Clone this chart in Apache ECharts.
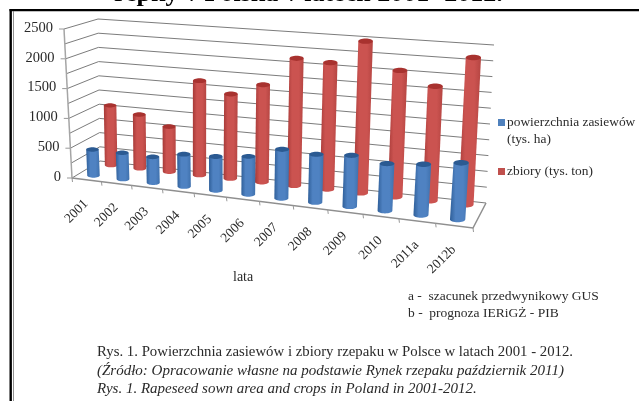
<!DOCTYPE html>
<html><head><meta charset="utf-8">
<style>html,body{margin:0;padding:0;background:#fff}#c{width:639px;height:401px;filter:blur(0.45px)}</style>
<script src="https://cdn.jsdelivr.net/npm/echarts@6/dist/echarts.min.js"></script>
</head><body><div id="c"></div>
<script>
const categories = ['2001','2002','2003','2004','2005','2006','2007','2008','2009','2010','2011a','2012b'];
const areaValues = [440,440,430,530,550,610,780,760,800,730,780,860];
const cropValues = [1040,930,770,1600,1420,1620,2100,2070,2460,2030,1820,2320];
const gridValues = [0,250,500,750,1000,1250,1500,1750,2000,2250,2500];
const tickLabels = ['0','500','1000','1500','2000','2500'];
const tickPositions = [0,1,2,3,4,5,6,7,8,9,10,11,12];
const seriesNames = ['powierzchnia zasiewów','zbiory (tys. ton)'];

const W = 639, H = 401, SERIF = '"Liberation Serif","Times New Roman",serif';
const FL=[72,178], FR=[473,228], BL=[100,161], BR=[486,203];
const HFL=[-8,-149], HFR=[12,-168], HBL=[-2,-142], HBR=[8,-158];
function warpU(u){ const a=0.87; return a*u + (1-a)*u*u; }
function proj(u,d,h){
  const w=warpU(u);
  const lerp=(A,B,C,D,k)=>(A[k]*(1-w)+B[k]*w)*(1-d)+(C[k]*(1-w)+D[k]*w)*d;
  return [lerp(FL,FR,BL,BR,0)+h*lerp(HFL,HFR,HBL,HBR,0),
          lerp(FL,FR,BL,BR,1)+h*lerp(HFL,HFR,HBL,HBR,1)];
}
function hVal(api,v){ return 1-api.coord([0,v])[1]/H; }

function gridItem(params,api){
  const v=api.value(0), h=hVal(api,v);
  const pts=[proj(0,0,h),proj(0,1,h),proj(1,1,h)];
  const ch=[{type:'polyline',shape:{points:pts},style:{fill:null,stroke:'#7c7c7c',lineWidth:1}}];
  if(v%500===0){
    const a=pts[0];
    ch.push({type:'line',shape:{x1:a[0]-5,y1:a[1],x2:a[0],y2:a[1]},style:{stroke:'#999',lineWidth:1}});
    ch.push({type:'text',x:a[0]-11,y:a[1]-1,style:{text:tickLabels[v/500],align:'right',verticalAlign:'middle',font:'14.5px '+SERIF,fill:'#2a2a2a'}});
  }
  return {type:'group',children:ch};
}
function floorItem(params,api){
  const k=api.value(0), a=proj(k/12,0,0);
  const ch=[{type:'line',shape:{x1:a[0],y1:a[1],x2:a[0]+0.5,y2:a[1]+4},style:{stroke:'#999',lineWidth:1}}];
  if(k===0) ch.push({type:'polyline',shape:{points:[FL,FR,BR]},style:{fill:null,stroke:'#8f8f8f',lineWidth:1.5}},
                    {type:'line',shape:{x1:FL[0],y1:FL[1],x2:proj(0,0,1)[0],y2:proj(0,0,1)[1]},style:{stroke:'#a5a5a5',lineWidth:1.5}});
  return {type:'group',children:ch};
}
function labelItem(params,api){
  const c=api.coord([api.value(0),0]), a=proj(c[0]/W,0,0);
  return {type:'text',x:a[0]-0.5,y:a[1]+22,rotation:Math.PI/4,
    style:{text:categories[api.value(0)],align:'right',verticalAlign:'middle',font:'13.5px '+SERIF,fill:'#2a2a2a'}};
}
function cylinder(depth,cols,dx){
  return function(params,api){
    const i=api.value(0), c=api.coord([i,api.value(1)]), u=c[0]/W, h=1-c[1]/H;
    const off=dx*(1-u);
    const b=proj(u,depth,0), t=proj(u,depth,h), r=6.2+1.5*u, ry=2.2+0.6*u;
    b[0]+=off; t[0]+=off;
    const pts=[[t[0]-r,t[1]]];
    for(let a=0;a<=16;a++){const th=Math.PI*a/16;pts.push([b[0]-r*Math.cos(th),b[1]+ry*Math.sin(th)]);}
    pts.push([t[0]+r,t[1]]);
    const fill=new echarts.graphic.LinearGradient(0,0,1,0,[
      {offset:0,color:cols[0]},{offset:0.3,color:cols[1]},{offset:0.7,color:cols[1]},{offset:1,color:cols[2]}]);
    return {type:'group',children:[
      {type:'polygon',shape:{points:pts},style:{fill}},
      {type:'ellipse',shape:{cx:t[0],cy:t[1],rx:r,ry:ry},style:{fill:cols[3]}}
    ]};
  };
}
const blue=['#2f5f99','#4f82c2','#3f71ad','#2b5a92'], red=['#a63a38','#cb5350','#b54542','#a8322f'];

const chart=echarts.init(document.getElementById('c'),null,{renderer:'canvas'});
const txt=(s,x,y,size,extra)=>({type:'text',x,y,style:Object.assign({text:s,font:size+'px '+SERIF,fill:'#2a2a2a',verticalAlign:'middle'},extra||{})});
chart.setOption({
  animation:false,
  backgroundColor:'#fff',
  grid:{left:0,top:0,right:0,bottom:0},
  xAxis:{type:'category',data:categories,show:false},
  yAxis:{type:'value',min:0,max:2500,show:false},
  legend:{orient:'vertical',left:493,top:111,itemWidth:7,itemHeight:7,itemGap:36,icon:'rect',padding:5,
    data:[seriesNames[0],seriesNames[1]],
    textStyle:{fontFamily:SERIF,fontSize:13.4,color:'#2a2a2a',padding:[0,0,0,-3]}},
  graphic:[
    {type:'rect',shape:{x:9.5,y:9,width:630,height:2.2},style:{fill:'#000'}},
    {type:'rect',shape:{x:9.5,y:9,width:2.4,height:392},style:{fill:'#000'}},
    {type:'rect',shape:{x:13,y:11,width:0.8,height:390},style:{fill:'#777'}},
    {type:'text',x:114,y:-6,style:{text:'repky v Polska v latech 2001- 2012.',font:'bold 26px '+SERIF,fill:'#000',verticalAlign:'middle'}},
    txt('(tys. ha)',507,139,13.4),
    txt('lata',233,277,14),
    txt('a -  szacunek przedwynikowy GUS',408,296,13.5),
    txt('b -  prognoza IERiGŻ - PIB',408,313,13.5),
    txt('Rys. 1. Powierzchnia zasiewów i zbiory rzepaku w Polsce w latach 2001 - 2012.',97,352,14.8),
    txt('(Źródło: Opracowanie własne na podstawie Rynek rzepaku październik 2011)',97,371,15,{font:'italic 15px '+SERIF}),
    txt('Rys. 1. Rapeseed sown area and crops in Poland in 2001-2012.',97,389,15,{font:'italic 15px '+SERIF})
  ],
  series:[
    {type:'custom',silent:true,data:gridValues.map(v=>[v]),renderItem:gridItem,z:1},
    {type:'custom',silent:true,data:tickPositions.map(k=>[k]),renderItem:floorItem,z:1},
    {type:'custom',silent:true,data:categories.map((c,i)=>[i]),renderItem:labelItem,z:1},
    {type:'custom',name:seriesNames[1],itemStyle:{color:'#c0504d'},data:cropValues.map((v,i)=>[i,v]),renderItem:cylinder(0.85,red,1.2),z:2},
    {type:'custom',name:seriesNames[0],itemStyle:{color:'#4f81bd'},data:areaValues.map((v,i)=>[i,v]),renderItem:cylinder(0.25,blue,0),z:3}
  ]
});
</script></body></html>
